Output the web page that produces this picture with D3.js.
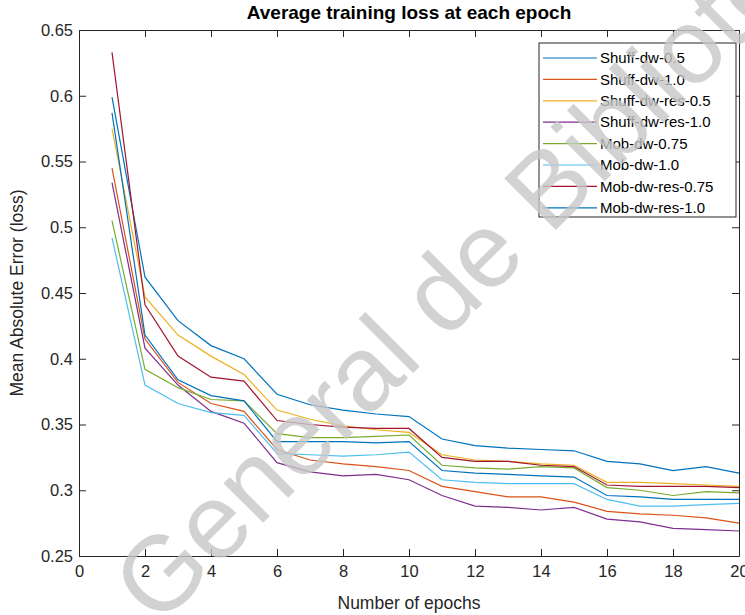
<!DOCTYPE html>
<html>
<head>
<meta charset="utf-8">
<script src="https://cdn.jsdelivr.net/npm/d3@7"></script>
<style>
  body { margin: 0; background: #fff; }
  svg { display: block; font-family: "Liberation Sans", Arial, sans-serif; }
</style>
</head>
<body>
<div id="chart"></div>
<script>
// data
const epochs = [1, 2, 3, 4, 5, 6, 7, 8, 9, 10, 11, 12, 13, 14, 15, 16, 17, 18, 19, 20];
const seriesNames = ["Shuff-dw-0.5", "Shuff-dw-1.0", "Shuff-dw-res-0.5", "Shuff-dw-res-1.0",
                     "Mob-dw-0.75", "Mob-dw-1.0", "Mob-dw-res-0.75", "Mob-dw-res-1.0"];
const shuffDw05    = [0.599, 0.462, 0.429, 0.410, 0.400, 0.373, 0.365, 0.361, 0.358, 0.356, 0.339, 0.334, 0.332, 0.331, 0.330, 0.322, 0.320, 0.315, 0.318, 0.313];
const shuffDw10    = [0.545, 0.415, 0.382, 0.366, 0.360, 0.331, 0.323, 0.320, 0.318, 0.315, 0.303, 0.299, 0.295, 0.295, 0.291, 0.284, 0.282, 0.281, 0.279, 0.275];
const shuffDwRes05 = [0.575, 0.447, 0.418, 0.402, 0.388, 0.361, 0.354, 0.349, 0.346, 0.344, 0.327, 0.323, 0.322, 0.320, 0.319, 0.306, 0.306, 0.305, 0.304, 0.303];
const shuffDwRes10 = [0.534, 0.408, 0.380, 0.360, 0.351, 0.321, 0.314, 0.311, 0.312, 0.308, 0.296, 0.288, 0.287, 0.285, 0.287, 0.278, 0.276, 0.271, 0.270, 0.269];
const mobDw075     = [0.505, 0.392, 0.378, 0.369, 0.368, 0.343, 0.340, 0.340, 0.341, 0.342, 0.319, 0.317, 0.316, 0.318, 0.317, 0.302, 0.300, 0.296, 0.299, 0.298];
const mobDw10      = [0.492, 0.380, 0.366, 0.359, 0.357, 0.328, 0.327, 0.326, 0.327, 0.329, 0.308, 0.306, 0.305, 0.305, 0.305, 0.293, 0.288, 0.288, 0.289, 0.290];
const mobDwRes075  = [0.633, 0.441, 0.402, 0.386, 0.383, 0.353, 0.350, 0.348, 0.347, 0.347, 0.325, 0.322, 0.322, 0.319, 0.318, 0.304, 0.303, 0.303, 0.303, 0.302];
const mobDwRes10   = [0.587, 0.418, 0.384, 0.372, 0.368, 0.337, 0.337, 0.337, 0.336, 0.337, 0.315, 0.313, 0.312, 0.311, 0.310, 0.296, 0.295, 0.293, 0.293, 0.293];
const xTicks = [0, 2, 4, 6, 8, 10, 12, 14, 16, 18, 20];
const yTicks = [0.25, 0.3, 0.35, 0.4, 0.45, 0.5, 0.55, 0.6, 0.65];

const allValues = [shuffDw05, shuffDw10, shuffDwRes05, shuffDwRes10, mobDw075, mobDw10, mobDwRes075, mobDwRes10];
const colors = ["#0072BD", "#D95319", "#EDB120", "#7E2F8E", "#77AC30", "#4DBEEE", "#A2142F", "#0072BD"];

const W = 745, H = 615;
const margin = {top: 30, right: 6, bottom: 59, left: 79},
    width = W - margin.left - margin.right,
    height = H - margin.top - margin.bottom;
const ink = "#262626";

const svg = d3.select("#chart").append("svg")
    .attr("width", W)
    .attr("height", H);

const g = svg.append("g")
    .attr("transform", `translate(${margin.left},${margin.top})`);

const x = d3.scaleLinear().domain([0, 20]).range([0, width]);
const y = d3.scaleLinear().domain([0.25, 0.65]).range([height, 0]);

// lines
const line = d3.line()
    .x((d, i) => x(epochs[i]))
    .y(d => y(d));

allValues.forEach((vals, k) => {
  g.append("path")
    .datum(vals)
    .attr("fill", "none")
    .attr("stroke", colors[k])
    .attr("stroke-width", 1.2)
    .attr("d", line);
});

// axes (MATLAB style box with inward ticks)
function styleAxis(sel) {
  sel.selectAll("path, line").attr("stroke", ink);
  sel.selectAll("text").attr("fill", ink).style("font-size", "16.5px")
     .style("font-family", '"Liberation Sans", Arial, sans-serif');
}

g.append("g")
    .attr("transform", `translate(0,${height})`)
    .call(d3.axisBottom(x).tickValues(xTicks).tickSize(-7).tickSizeOuter(0).tickPadding(9))
    .call(styleAxis);

g.append("g")
    .call(d3.axisLeft(y).tickValues(yTicks).tickFormat(d3.format("~g")).tickSize(-7).tickSizeOuter(0).tickPadding(6))
    .call(styleAxis);

g.append("g")
    .call(d3.axisTop(x).tickValues(xTicks).tickFormat("").tickSize(-7).tickSizeOuter(0))
    .call(styleAxis);

g.append("g")
    .attr("transform", `translate(${width},0)`)
    .call(d3.axisRight(y).tickValues(yTicks).tickFormat("").tickSize(-7).tickSizeOuter(0))
    .call(styleAxis);

// labels
svg.append("text")
    .attr("x", margin.left + width / 2)
    .attr("y", 19)
    .attr("text-anchor", "middle")
    .attr("fill", "#000")
    .style("font-size", "19px")
    .style("font-weight", "bold")
    .text("Average training loss at each epoch");

svg.append("text")
    .attr("x", margin.left + width / 2)
    .attr("y", 609)
    .attr("text-anchor", "middle")
    .attr("fill", ink)
    .style("font-size", "17.5px")
    .text("Number of epochs");

svg.append("text")
    .attr("transform", `translate(23,${margin.top + height / 2}) rotate(-90)`)
    .attr("text-anchor", "middle")
    .attr("fill", ink)
    .style("font-size", "17.5px")
    .text("Mean Absolute Error (loss)");

// legend
const lg = svg.append("g").attr("transform", "translate(539,43)");
lg.append("rect")
    .attr("width", 197).attr("height", 174)
    .attr("fill", "#fff").attr("stroke", ink).attr("stroke-width", 1);
seriesNames.forEach((name, k) => {
  const yy = 15 + k * 21.4;
  lg.append("line")
    .attr("x1", 4).attr("x2", 58).attr("y1", yy).attr("y2", yy)
    .attr("stroke", colors[k]).attr("stroke-width", 1.2);
  lg.append("text")
    .attr("x", 61).attr("y", yy).attr("dy", "0.35em")
    .attr("fill", "#000")
    .style("font-size", "15px")
    .text(name);
});

// watermark
svg.append("text")
    .attr("transform", "translate(158,628) rotate(-45)")
    .attr("fill", "#c8c8c8")
    .attr("opacity", 0.8)
    .style("font-size", "106px")
    .text("General de Biblioteca");
</script>
</body>
</html>
